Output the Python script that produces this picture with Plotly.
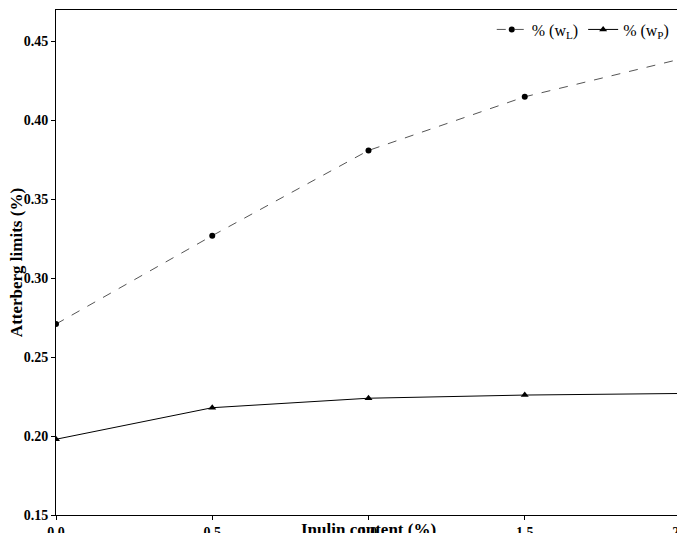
import plotly.graph_objects as go

x = [0.0, 0.5, 1.0, 1.5, 2.0]
wl = [0.271, 0.327, 0.381, 0.415, 0.439]
wp = [0.198, 0.218, 0.224, 0.226, 0.227]
xticks = ["<b>0.0</b>", "<b>0.5</b>", "<b>1.0</b>", "<b>1.5</b>", "<b>2.0</b>"]
yvals = [0.15, 0.2, 0.25, 0.3, 0.35, 0.4, 0.45]

fig = go.Figure()
fig.add_trace(go.Scatter(x=x, y=wl, mode="lines+markers", name="% (w<sub>L</sub>)",
    line=dict(color="#555", width=1, dash="dash"), marker=dict(symbol="circle", size=6, color="black")))
fig.add_trace(go.Scatter(x=x, y=wp, mode="lines+markers", name="% (w<sub>P</sub>)",
    line=dict(color="black", width=1), marker=dict(symbol="triangle-up", size=7, color="black")))

ax = dict(showline=True, linecolor="black", linewidth=1, mirror=True, ticks="outside",
          ticklen=4, tickcolor="black", showgrid=False, zeroline=False, automargin=False,
          tickfont=dict(family="Liberation Serif", size=14, color="black"))
fig.update_layout(
    width=685, height=533, plot_bgcolor="white", paper_bgcolor="white",
    margin=dict(l=48, r=12, t=2, b=26),
    font=dict(family="Liberation Serif", color="black"),
    xaxis=dict(ax, range=[0, 2], tickvals=x, ticktext=xticks),
    yaxis=dict(ax, range=[0.15, 0.47], tickvals=yvals,
               ticktext=["<b>%.2f</b>" % v for v in yvals]),
    legend=dict(orientation="h", x=0.99, y=0.995, xanchor="right", yanchor="top",
                bgcolor="rgba(0,0,0,0)", font=dict(size=16)),
    annotations=[
        dict(text="<b>Inulin content (%)</b>", xref="paper", yref="paper", x=0.5, y=-0.052,
             yanchor="bottom", xanchor="center", showarrow=False, font=dict(size=17)),
        dict(text="<b>Atterberg limits (%)</b>", xref="paper", yref="paper", x=-0.063, y=0.5,
             textangle=-90, xanchor="center", yanchor="middle", showarrow=False, font=dict(size=17)),
    ],
)
fig.write_html("out.html")
